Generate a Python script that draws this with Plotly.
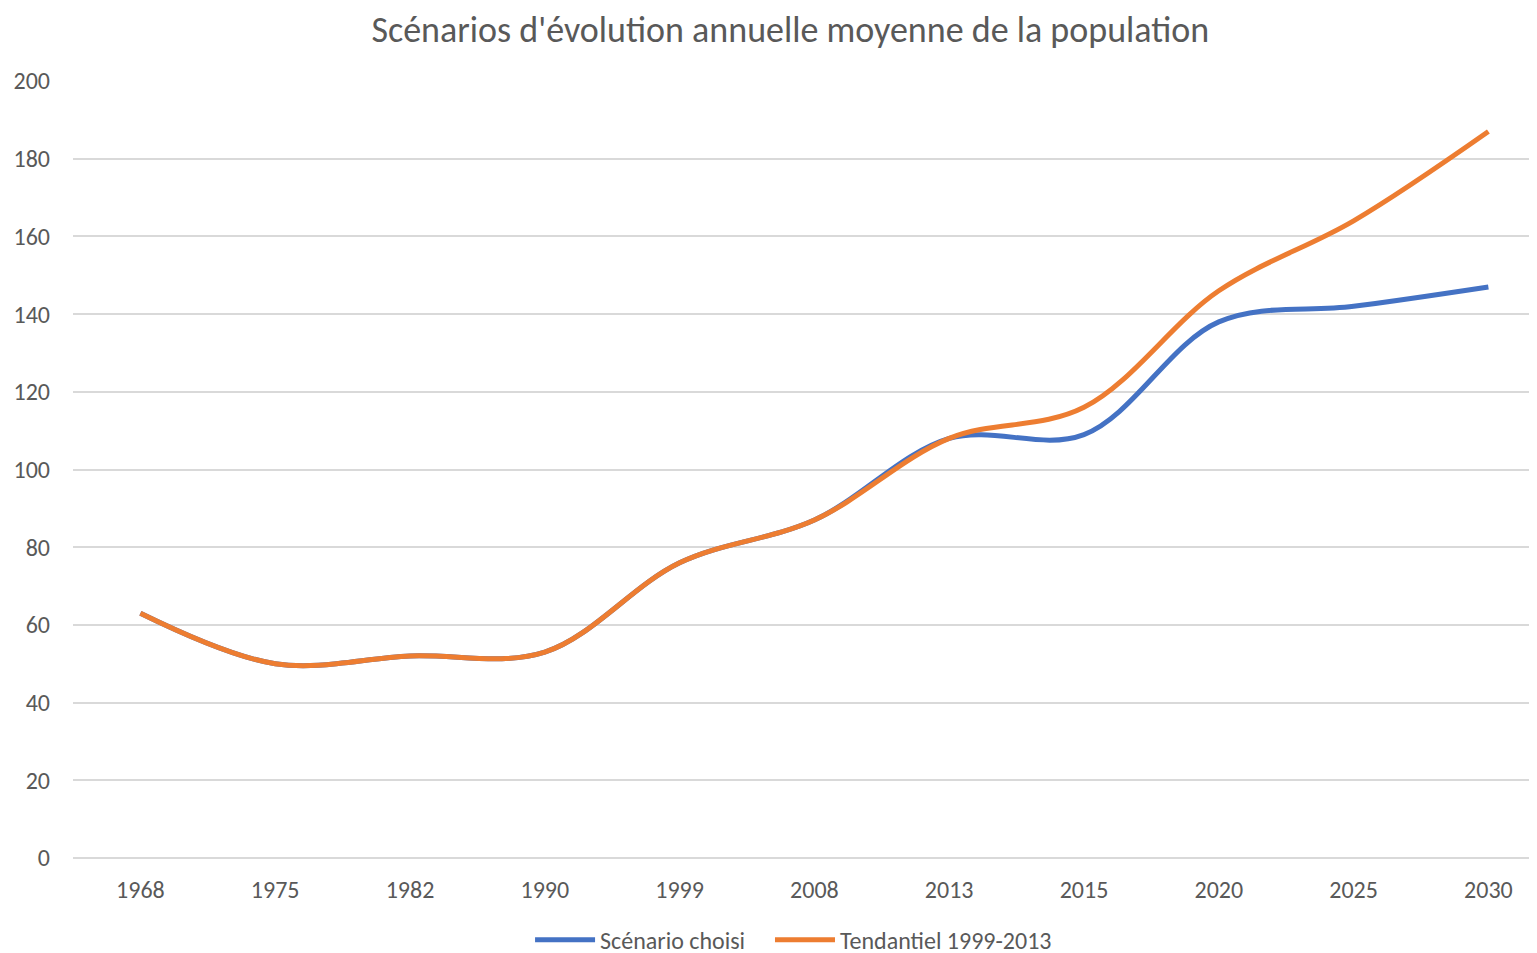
import plotly.graph_objects as go

years = ["1968", "1975", "1982", "1990", "1999", "2008", "2013", "2015", "2020", "2025", "2030"]
scenario_choisi = [63, 50, 52, 53, 76, 87, 108, 109, 138, 142, 147]
tendantiel = [63, 50, 52, 53, 76, 87, 108, 116, 146, 164, 187]
y_ticks = [0, 20, 40, 60, 80, 100, 120, 140, 160, 180, 200]

font_family = "Carlito, Calibri, Lato, 'Open Sans', sans-serif"
grey = "#595959"

fig = go.Figure()
fig.add_trace(go.Scatter(x=list(range(len(years))), y=scenario_choisi, mode="lines",
                         name="Scénario choisi", legend="legend",
                         line=dict(color="#4472C4", width=5, shape="spline", smoothing=1.0)))
fig.add_trace(go.Scatter(x=list(range(len(years))), y=tendantiel, mode="lines",
                         name="Tendantiel 1999-2013", legend="legend2",
                         line=dict(color="#ED7D31", width=5, shape="spline", smoothing=1.0)))

legend_common = dict(orientation="h", xanchor="left", xref="paper",
                     y=0.022, yanchor="middle", yref="container",
                     font=dict(size=24, color=grey), itemwidth=60,
                     bgcolor="rgba(0,0,0,0)")

fig.update_layout(
    width=1537, height=953,
    paper_bgcolor="white", plot_bgcolor="white",
    margin=dict(l=65, r=0, t=73, b=103),
    title=dict(text="Scénarios d'évolution annuelle moyenne de la population",
               x=0.509, xanchor="center", y=0.978, yanchor="middle",
               font=dict(family=font_family, size=36, color=grey)),
    font=dict(family=font_family, color=grey),
    xaxis=dict(tickmode="array", tickvals=list(range(len(years))), ticktext=years,
               range=[-0.5, 10.42], showgrid=False, zeroline=False, showline=False,
               tickfont=dict(size=24, color=grey), ticks="", ticklabelstandoff=15),
    yaxis=dict(range=[0, 200], tickvals=y_ticks, showgrid=True, gridcolor="#D9D9D9", gridwidth=1.5,
               zeroline=True, zerolinecolor="#D9D9D9", zerolinewidth=1.5, showline=False,
               tickfont=dict(size=24, color=grey), ticks="", ticklabelstandoff=22),
    legend=dict(x=0.3105, **legend_common),
    legend2=dict(x=0.4735, **legend_common),
    showlegend=True,
)
fig.write_html("out.html")
